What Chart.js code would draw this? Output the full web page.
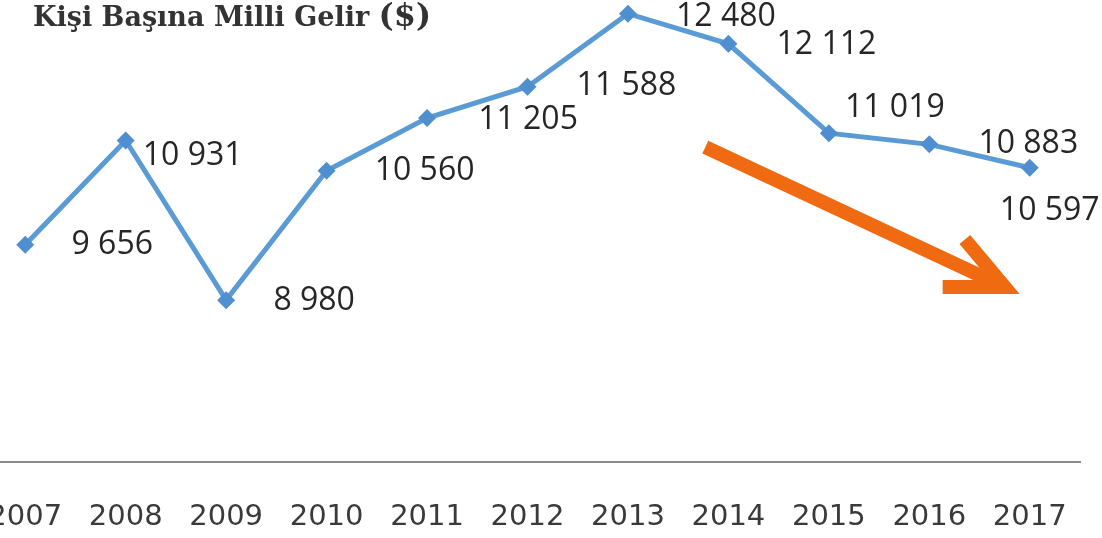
<!DOCTYPE html>
<html>
<head>
<meta charset="utf-8">
<script src="https://cdn.jsdelivr.net/npm/chart.js@4.4.0/dist/chart.umd.min.js"></script>
<style>
  html, body { margin: 0; padding: 0; background: #fff; overflow: hidden; }
  body { width: 1102px; height: 538px; position: relative; }
  #wrap { position: absolute; left: -34px; top: 0; width: 1136px; height: 573px; }
</style>
</head>
<body>
<div id="wrap"><canvas id="gelirChart"></canvas></div>
<script>
const years = ['2007', '2008', '2009', '2010', '2011', '2012', '2013', '2014', '2015', '2016', '2017'];
const gelir = [9656, 10931, 8980, 10560, 11205, 11588, 12480, 12112, 11019, 10883, 10597];
const valueLabels = ['9 656', '10 931', '8 980', '10 560', '11 205', '11 588', '12 480', '12 112', '11 019', '10 883', '10 597'];
// trend arrow, in data units (category index, value)
const arrowFrom = [6.77, 10850];
const arrowTo = [9.75, 9140];

// label offsets from each point, px
const labelOffsets = [[87, 0], [67, 15], [88, 1], [98, 0], [101, 2], [99, -1], [98, 3], [98, 1], [66, -25], [99, 0], [20, 43]];

const extras = {
  id: 'extras',
  afterDatasetsDraw(chart) {
    const { ctx, scales: { x, y } } = chart;
    const meta = chart.getDatasetMeta(0);

    // value labels
    ctx.save();
    ctx.font = '32px "Open Sans"';
    ctx.fillStyle = '#262626';
    ctx.textAlign = 'center';
    ctx.textBaseline = 'middle';
    meta.data.forEach((pt, i) => {
      const [dx, dy] = labelOffsets[i];
      ctx.fillText(valueLabels[i], pt.x + dx, pt.y + dy);
    });
    ctx.restore();

    // orange arrow
    const x1 = x.getPixelForValue(arrowFrom[0]), y1 = y.getPixelForValue(arrowFrom[1]);
    const x2 = x.getPixelForValue(arrowTo[0]), y2 = y.getPixelForValue(arrowTo[1]);
    const ang = Math.atan2(y2 - y1, x2 - x1);
    const wing = 62, spread = 25 * Math.PI / 180;
    ctx.save();
    ctx.strokeStyle = '#f06a12';
    ctx.lineWidth = 14;
    ctx.lineCap = 'butt';
    ctx.lineJoin = 'miter';
    ctx.beginPath();
    ctx.moveTo(x1, y1);
    ctx.lineTo(x2 - 6 * Math.cos(ang), y2 - 6 * Math.sin(ang));
    ctx.stroke();
    ctx.beginPath();
    ctx.moveTo(x2 - wing * Math.cos(ang - spread), y2 - wing * Math.sin(ang - spread));
    ctx.lineTo(x2, y2);
    ctx.lineTo(x2 - wing * Math.cos(ang + spread), y2 - wing * Math.sin(ang + spread));
    ctx.stroke();
    ctx.restore();

    // title (canvas starts 34px left of the page)
    ctx.save();
    ctx.fillStyle = '#333';
    ctx.textBaseline = 'middle';
    ctx.font = 'bold 27px "DejaVu Serif"';
    const t = 'Kişi Başına Milli Gelir ';
    ctx.fillText(t, 67, 19);
    const w = ctx.measureText(t).width;
    ctx.font = 'bold 32px "DejaVu Serif"';
    ctx.fillText('($)', 67 + w, 18);
    ctx.restore();
  }
};

new Chart(document.getElementById('gelirChart'), {
  type: 'line',
  data: {
    labels: years,
    datasets: [{
      data: gelir,
      borderColor: '#5b9bd5',
      borderWidth: 5,
      pointStyle: 'rectRot',
      pointRadius: 9,
      pointBackgroundColor: '#4f8fd0',
      pointBorderColor: '#4f8fd0',
      pointBorderWidth: 0,
      tension: 0,
      clip: false
    }]
  },
  options: {
    responsive: true,
    maintainAspectRatio: false,
    animation: false,
    layout: { padding: { top: 12, right: 22, bottom: 0, left: 0 } },
    scales: {
      x: {
        offset: true,
        grid: { display: false, drawTicks: false },
        border: { display: true, color: '#8a8a8a', width: 2 },
        ticks: {
          padding: 38,
          color: '#3a3a3a',
          font: { family: 'DejaVu Sans', size: 29 },
          maxRotation: 0,
          autoSkip: false
        },
        afterFit(scale) {
          scale.paddingLeft = 0;
          scale.paddingRight = 0;
        }
      },
      y: {
        display: false,
        min: 7000,
        max: 12500
      }
    },
    plugins: {
      legend: { display: false },
      tooltip: { enabled: false }
    }
  },
  plugins: [extras]
});
</script>
</body>
</html>
